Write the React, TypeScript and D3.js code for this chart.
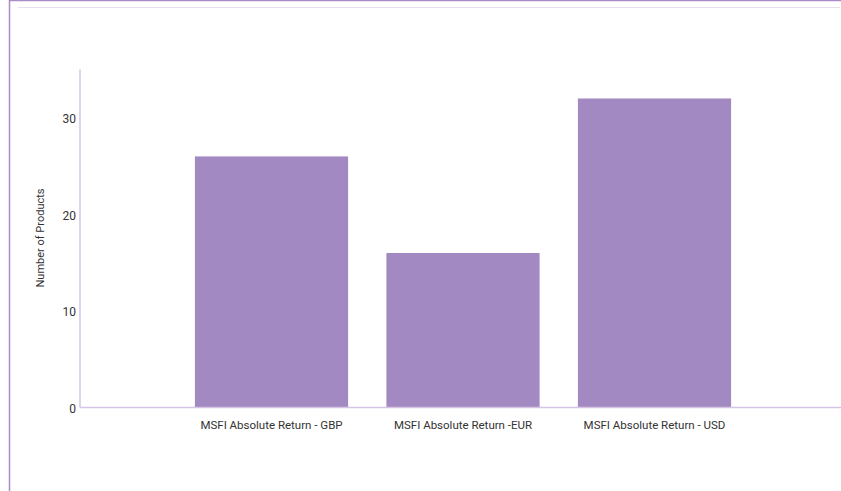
import React from "react";
import * as d3 from "d3";

const categories = ["MSFI Absolute Return - GBP", "MSFI Absolute Return -EUR", "MSFI Absolute Return - USD"];
const values = [26, 16, 32];
const yTicks = [0, 10, 20, 30];
const yLabel = "Number of Products";

export default function App() {
  const W = 841, H = 491;
  const x = d3.scaleBand<string>().domain(categories).range([80, 846]).paddingInner(0.2).paddingOuter(0.6);
  const y = d3.scaleLinear().domain([0, 35]).range([407.5, 69.5]);
  const font = "Roboto, 'Open Sans', sans-serif";
  return (
    <div style={{ position: "fixed", left: 0, top: 0, width: W, height: H, background: "#fff" }}>
      <svg width={W} height={H} style={{ display: "block" }}>
        <line x1={9.5} x2={9.5} y1={0} y2={H} stroke="#a98cc8" strokeWidth={1.5} />
        <line x1={9} x2={W} y1={0.5} y2={0.5} stroke="#a98cc8" strokeWidth={1.5} />
        <line x1={18} x2={840} y1={7.5} y2={7.5} stroke="#e6e1ec" strokeWidth={1} />
        {categories.map((c, i) => (
          <rect key={c} x={x(c)} y={y(values[i])} width={x.bandwidth()} height={y(0) - y(values[i])} fill="#a389c1" />
        ))}
        <line x1={80} x2={80} y1={y(35)} y2={y(0)} stroke="#d3c5e3" strokeWidth={1.5} />
        <line x1={80} x2={W} y1={y(0)} y2={y(0)} stroke="#d3c5e3" strokeWidth={1.5} />
        {yTicks.map((t) => (
          <text key={t} x={76} y={y(t)} dy="0.45em" textAnchor="end" fontFamily={font} fontSize={12} fill="#333">{t}</text>
        ))}
        {categories.map((c) => (
          <text key={c} x={(x(c) as number) + x.bandwidth() / 2} y={425} dy="0.35em" textAnchor="middle" fontFamily={font} fontSize={11.5} fill="#333">{c}</text>
        ))}
        <text transform={`translate(40,${238}) rotate(-90)`} textAnchor="middle" dy="0.35em" fontFamily={font} fontSize={11} fill="#333">{yLabel}</text>
      </svg>
    </div>
  );
}
